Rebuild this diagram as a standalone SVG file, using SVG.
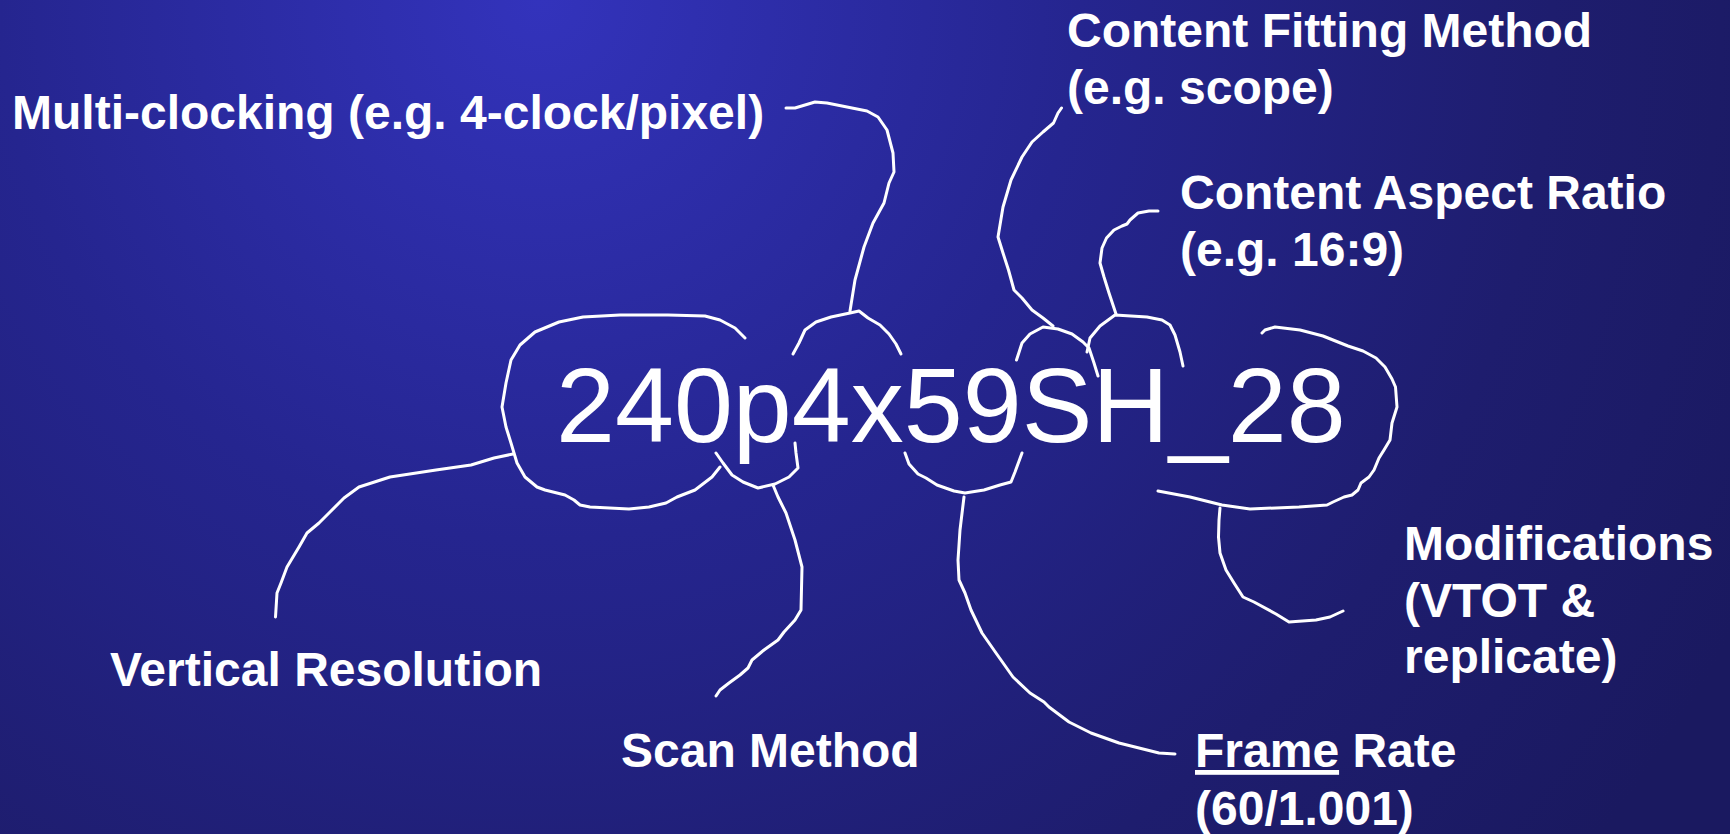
<svg xmlns="http://www.w3.org/2000/svg" width="1730" height="834" viewBox="0 0 1730 834">
  <defs>
    <radialGradient id="bg" gradientUnits="userSpaceOnUse" cx="540" cy="0" r="1350">
      <stop offset="0" stop-color="#3333bc"/>
      <stop offset="0.4" stop-color="#25258f"/>
      <stop offset="0.75" stop-color="#1e1d6e"/>
      <stop offset="1" stop-color="#1a1960"/>
    </radialGradient>
  </defs>
  <style>
    .lbl { font-family: "Liberation Sans", Arial, sans-serif; font-weight: bold; font-size: 48px; fill: #ffffff; }
    .code { font-family: "Liberation Sans", Arial, sans-serif; font-size: 106px; fill: #ffffff; }
    .ink { fill: none; stroke: #ffffff; stroke-width: 3; stroke-linecap: round; stroke-linejoin: round; }
  </style>

  <rect x="0" y="0" width="1730" height="834" fill="url(#bg)"/>

  <!-- central format string -->
  <g id="format-code">
    <text class="code" x="556" y="442">240p4x59SH_28</text>
  </g>

  <!-- field labels -->
  <g id="multi-clocking">
    <text class="lbl" x="12" y="129">Multi-clocking (e.g. 4-clock/pixel)</text>
  </g>
  <g id="content-fitting">
    <text class="lbl" x="1067" y="47">Content Fitting Method</text>
    <text class="lbl" x="1067" y="104">(e.g. scope)</text>
  </g>
  <g id="content-aspect">
    <text class="lbl" x="1180" y="209">Content Aspect Ratio</text>
    <text class="lbl" x="1180" y="266">(e.g. 16:9)</text>
  </g>
  <g id="modifications">
    <text class="lbl" x="1404" y="560">Modifications</text>
    <text class="lbl" x="1404" y="617">(VTOT &amp;</text>
    <text class="lbl" x="1404" y="673">replicate)</text>
  </g>
  <g id="vertical-resolution">
    <text class="lbl" x="110" y="686">Vertical Resolution</text>
  </g>
  <g id="scan-method">
    <text class="lbl" x="621" y="767">Scan Method</text>
  </g>
  <g id="frame-rate">
    <text class="lbl" x="1195" y="767"><tspan text-decoration="underline">Frame</tspan> Rate</text>
    <text class="lbl" x="1195" y="825">(60/1.001)</text>
  </g>

  <!-- hand-drawn brackets and leader lines -->
  <g id="connectors" class="ink">
    <!-- multi-clocking -->
    <path d="M786,108 L795,108 L815,102 L827,103 L867,111 L878,117 L887,130 L893,153 L894,172 L889,183 L884,203 L873,223 L864,247 L855,280 L850,311"/>
    <path d="M793,354 L799,343 L805,330 L816,322 L831,317 L850,313 L859,311 L868,318 L880,325 L889,334 L896,344 L901,354"/>
    <!-- vertical resolution -->
    <path d="M745,338 L735,328 L720,320 L705,316 L668,315 L620,315 L583,317 L559,322 L535,332 L520,345 L511,360 L506,383 L502,407 L506,427 L511,443 L514,453 L517,463 L525,477 L537,487 L545,490 L565,495 L574,500 L580,505 L590,507 L629,509 L649,507 L666,503 L677,497 L695,490 L712,477 L720,467"/>
    <path d="M513,454 L494,458 L471,465 L436,470 L390,477 L359,487 L344,498 L330,512 L319,523 L307,533 L299,547 L287,567 L281,583 L277,593 L275.5,617"/>
    <!-- scan method -->
    <path d="M716,453 L723,463 L732,475 L743,482 L758,488 L775,484 L789,477 L798,468 L796,453 L795,443"/>
    <path d="M773,485 L778,497 L786,513 L795,540 L802,567 L801,610 L795,620 L784,632 L778,640 L764,650 L752,660 L748,668 L740,675 L729,683 L720,690 L716,696"/>
    <!-- frame rate -->
    <path d="M905,453 L909,464 L918,474 L926,478 L937,485 L954,491 L965,493 L984,490 L1000,485 L1011,482 L1015,472 L1022,453"/>
    <path d="M964,497 L960,530 L958,560 L959,580 L965,593 L971,610 L982,633 L996,653 L1013,677 L1030,693 L1044,702 L1049,707 L1069,722 L1091,733 L1119,743 L1159,753 L1175,754"/>
    <!-- content fitting method -->
    <path d="M1016.5,360 L1022,343 L1030,334 L1043,327 L1058,329 L1072,334 L1083,342 L1089,348 L1094,363 L1098,376"/>
    <path d="M1061.5,108 L1058,113 L1053.5,123 L1043,132 L1032,142 L1022,157 L1011,180 L1003,207 L998,237 L1003,253 L1008.5,270 L1014,290 L1022,298 L1032,310 L1043,318 L1053,326"/>
    <!-- content aspect ratio -->
    <path d="M1158,211 L1149,211 L1138,213 L1130,220 L1127,224 L1122,226 L1114,230 L1106.5,238 L1102,248 L1100,263 L1104,277 L1109,293 L1116,314"/>
    <path d="M1087,352 L1090,338 L1100,326 L1115,315 L1147,317 L1162,320 L1170,325 L1175,335 L1180,352 L1183,366"/>
    <!-- modifications -->
    <path d="M1262,333 L1265,330 L1275,327 L1300,330 L1323,336 L1348,346 L1363,351 L1376,358 L1385,367 L1392,379 L1395.5,387 L1397,407 L1392,423 L1390,440 L1384,450 L1379,458 L1374,470 L1369,477 L1361,483 L1358,490 L1352,495 L1344,497 L1333,502 L1327,505 L1299,507 L1250,509 L1222,505 L1190,497 L1158,491"/>
    <path d="M1220,508 L1219,520 L1218.5,537 L1220,553 L1226,570 L1234,583 L1243,597 L1254,602 L1276,614 L1289,622 L1316,620 L1330,617 L1343,611"/>
  </g>
</svg>
